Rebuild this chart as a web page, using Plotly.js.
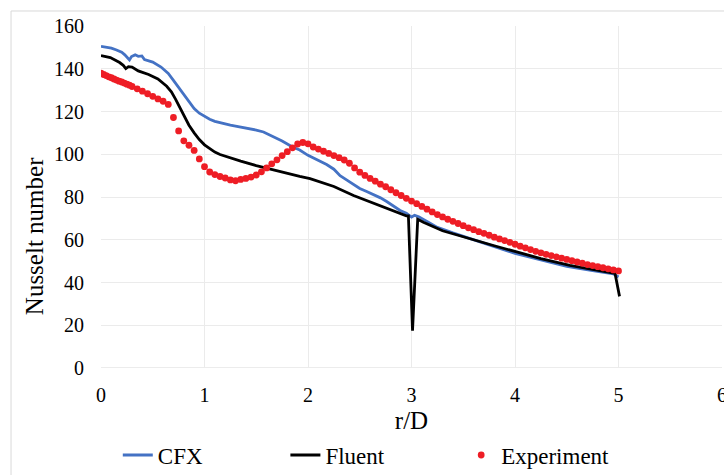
<!DOCTYPE html>
<html>
<head>
<meta charset="utf-8">
<script src="https://cdn.plot.ly/plotly-3.0.1.min.js"></script>
<style>
  html, body { margin: 0; padding: 0; background: #ffffff; }
  #chart { width: 724px; height: 475px; }
</style>
</head>
<body>
<div id="chart"></div>
<script>
// Radial distribution of the Nusselt number along the impingement plate (r/D)

// CFX simulation
const cfxR = [0, 0.05, 0.10, 0.15, 0.20, 0.23, 0.255, 0.275, 0.295, 0.33, 0.36, 0.395, 0.42, 0.50, 0.58,
  0.65, 0.70, 0.75, 0.80, 0.85, 0.90, 0.95, 1.00, 1.05, 1.10, 1.15, 1.20, 1.25, 1.30, 1.40, 1.50,
  1.57, 1.65, 1.75, 1.85, 1.92, 2.00, 2.05, 2.18, 2.25, 2.31, 2.38, 2.44, 2.50, 2.567, 2.63, 2.70,
  2.76, 2.83, 2.89, 2.95, 3.00, 3.03, 3.07, 3.15, 3.25, 3.40, 3.56, 3.75, 4.00, 4.25, 4.50, 4.75,
  4.95, 5.00];
const cfxNu = [150.5, 150.2, 149.6, 148.8, 147.7, 146.5, 145.0, 144.1, 145.7, 146.5, 145.8, 146.0, 144.3, 143.1, 140.8,
  137.8, 134.6, 131.2, 127.6, 124.5, 121.4, 119.2, 117.6, 116.4, 115.4, 114.7, 114.1, 113.6, 113.2, 112.3, 111.3,
  110.4, 108.6, 106.2, 103.4, 102.0, 99.5, 98.3, 95.2, 93.0, 90.0, 87.8, 86.1, 84.0, 82.6, 81.3, 79.6,
  77.9, 75.7, 73.7, 72.4, 70.6, 71.4, 70.8, 68.6, 65.8, 63.2, 60.8, 57.6, 53.6, 50.6, 47.5, 45.5,
  44.1, 42.6];

// Fluent simulation
const fluentR = [0, 0.09, 0.18, 0.215, 0.24, 0.265, 0.30, 0.36, 0.46, 0.55, 0.635, 0.68, 0.72, 0.76, 0.80,
  0.85, 0.90, 0.95, 1.00, 1.05, 1.10, 1.15, 1.25, 1.35, 1.50, 1.65, 1.83, 1.92, 2.02, 2.12, 2.25,
  2.44, 2.63, 2.83, 2.95, 2.97, 3.01, 3.06, 3.115, 3.30, 3.565, 3.80, 4.016, 4.25, 4.53, 4.75, 4.966,
  5.01];
const fluentNu = [146.2, 145.2, 142.9, 141.6, 140.1, 141.0, 140.8, 139.0, 137.3, 135.2, 131.8, 129.2, 125.8, 121.8, 117.8,
  113.6, 110.0, 106.9, 104.4, 102.6, 101.0, 99.9, 98.3, 96.8, 94.7, 92.8, 90.8, 89.6, 88.6, 86.9, 84.9,
  80.7, 77.1, 73.6, 71.2, 71.2, 17.5, 69.6, 68.2, 64.2, 60.4, 57.2, 54.3, 51.2, 48.0, 46.0, 44.3,
  33.5];

// Measurements
const expR = [0, 0.025, 0.05, 0.075, 0.10, 0.125, 0.15, 0.175, 0.20, 0.225, 0.25, 0.275, 0.30,
  0.35, 0.40, 0.45, 0.50, 0.55, 0.60, 0.65, 0.70, 0.75, 0.80, 0.85, 0.90, 0.95, 1.00,
  1.05, 1.10, 1.15, 1.20, 1.25, 1.30, 1.35, 1.40, 1.45, 1.50, 1.55, 1.60, 1.65, 1.70,
  1.75, 1.80, 1.85, 1.90, 1.95, 2.00, 2.05, 2.10, 2.15, 2.20, 2.25, 2.30, 2.35, 2.40,
  2.45, 2.50, 2.55, 2.60, 2.65, 2.70, 2.75, 2.80, 2.85, 2.90, 2.95, 3.00, 3.05, 3.10,
  3.15, 3.20, 3.25, 3.30, 3.35, 3.40, 3.45, 3.50, 3.55, 3.60, 3.65, 3.70, 3.75, 3.80,
  3.85, 3.90, 3.95, 4.00, 4.05, 4.10, 4.15, 4.20, 4.25, 4.30, 4.35, 4.40, 4.45, 4.50,
  4.55, 4.60, 4.65, 4.70, 4.75, 4.80, 4.85, 4.90, 4.95, 5.00];
const expNu = [137.9, 137.3, 136.8, 136.2, 135.8, 135.2, 134.7, 134.2, 133.8, 133.3, 132.8, 132.3, 131.7,
  130.6, 129.5, 128.3, 127.1, 125.9, 124.8, 123.3, 117.2, 110.9, 106.3, 104.2, 101.8, 97.8, 94.2,
  91.7, 90.5, 89.6, 88.9, 88.0, 87.6, 88.2, 88.7, 89.3, 90.3, 91.8, 93.6, 95.5, 97.4,
  99.4, 101.2, 103.0, 104.8, 105.5, 104.9, 103.4, 102.4, 101.4, 100.4, 99.4, 98.4, 97.3, 95.8,
  93.6, 91.6, 90.1, 88.7, 87.4, 86.0, 84.8, 83.4, 82.0, 80.7, 79.4, 78.1, 76.9, 75.6,
  74.3, 73.0, 71.8, 70.7, 69.6, 68.6, 67.6, 66.6, 65.6, 64.7, 63.8, 63.0, 62.1, 61.2,
  60.4, 59.6, 58.8, 57.9, 57.0, 56.2, 55.4, 54.6, 53.9, 53.2, 52.6, 52.0, 51.4, 50.8,
  50.2, 49.6, 49.0, 48.4, 47.9, 47.4, 46.9, 46.4, 45.9, 45.4];

const xTicks = [0, 1, 2, 3, 4, 5, 6];
const yTicks = [0, 20, 40, 60, 80, 100, 120, 140, 160];

const serif = 'Liberation Serif';

const traces = [
  {
    x: cfxR, y: cfxNu, name: 'CFX', type: 'scatter', mode: 'lines',
    line: { color: '#4472c4', width: 2.8 }, legend: 'legend'
  },
  {
    x: fluentR, y: fluentNu, name: 'Fluent', type: 'scatter', mode: 'lines',
    line: { color: '#000000', width: 2.8 }, legend: 'legend2'
  },
  {
    x: expR, y: expNu, name: 'Experiment', type: 'scatter', mode: 'markers',
    marker: { color: '#ee1d25', size: 6.8 }, legend: 'legend3'
  }
];

// one legend per series, laid out along the bottom of the figure
const legendBase = {
  orientation: 'h', xref: 'container', yref: 'container',
  yanchor: 'middle', xanchor: 'left', y: 0.042,
  font: { family: serif, size: 23, color: '#000' },
  bgcolor: 'rgba(0,0,0,0)', itemwidth: 30
};

const layout = {
  width: 724, height: 475,
  margin: { l: 101, r: 2, t: 26, b: 107, autoexpand: false },
  paper_bgcolor: '#ffffff', plot_bgcolor: '#ffffff',
  font: { family: serif, color: '#000' },
  showlegend: true,
  legend:  Object.assign({}, legendBase, { x: 0.1627 }),
  legend2: Object.assign({}, legendBase, { x: 0.3942 }),
  legend3: Object.assign({}, legendBase, { x: 0.637 }),
  xaxis: {
    range: [0, 6], tickvals: xTicks, ticktext: xTicks.map(String),
    showgrid: true, gridcolor: '#ebebeb', gridwidth: 1,
    zeroline: false, showline: false, ticks: '',
    tickfont: { family: serif, size: 20, color: '#000' },
    ticklabelstandoff: 13, ticklabeloverflow: 'allow',
    title: { text: 'r/D', font: { family: serif, size: 25, color: '#000' }, standoff: 6 },
    automargin: false, fixedrange: true
  },
  yaxis: {
    range: [0, 160], tickvals: yTicks, ticktext: yTicks.map(String),
    showgrid: true, gridcolor: '#ebebeb', gridwidth: 1,
    zeroline: false, showline: false, ticks: '',
    tickfont: { family: serif, size: 20, color: '#000' },
    ticklabelstandoff: 16,
    automargin: false, fixedrange: true
  },
  annotations: [
    {
      text: 'Nusselt number', xref: 'paper', yref: 'paper',
      x: -0.106, y: 0.386, xanchor: 'center', yanchor: 'middle',
      textangle: -90, showarrow: false,
      font: { family: serif, size: 25, color: '#000' }
    }
  ],
  shapes: [
    // chart frame
    { type: 'rect', xref: 'paper', yref: 'paper', layer: 'below',
      x0: -0.1449, x1: 1.2, y0: -0.6, y1: 1.0439,
      line: { color: '#d9d9d9', width: 1 }, fillcolor: 'rgba(0,0,0,0)' },
    // horizontal axis line
    { type: 'line', xref: 'paper', yref: 'y', x0: 0, x1: 1, y0: 0, y1: 0,
      line: { color: '#d9d9d9', width: 1.2 }, layer: 'below' }
  ]
};

Plotly.newPlot('chart', traces, layout, { displayModeBar: false, staticPlot: true });
</script>
</body>
</html>
